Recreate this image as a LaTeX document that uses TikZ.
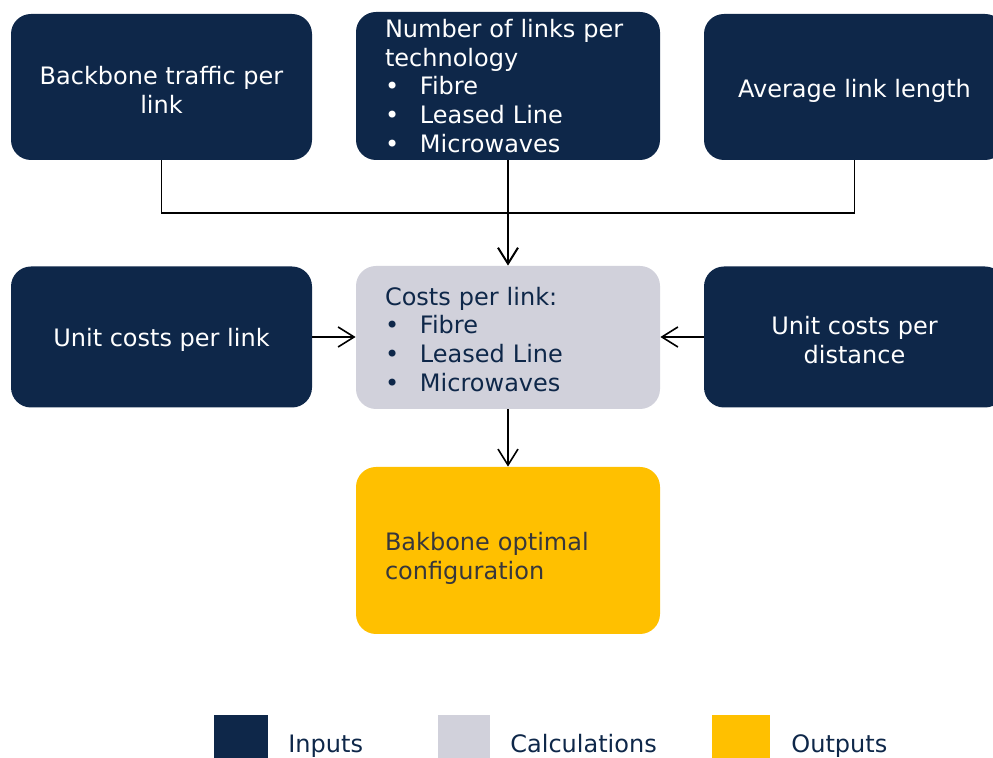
\documentclass[tikz,border=0pt]{standalone}
\usepackage{fontspec}
\setmainfont{DejaVu Sans}
\usetikzlibrary{arrows.meta}

\newcommand{\bul}{\makebox[17.5pt][l]{\textbullet}}
\newcommand{\lowered}[1]{\rule{0pt}{#1}}

\begin{document}
\begin{tikzpicture}[
  x=0.5pt, y=-0.5pt,
  stage/.style={rounded corners=10pt, inner sep=0pt, font=\fontsize{12}{14.35}\selectfont},
  inbox/.style={stage, fill=navy, text=white, align=center},
  calcbox/.style={stage, fill=calcgrey, text=navy, align=left, text width=123pt},
  outbox/.style={stage, fill=gold, text=outtext, align=left, text width=123pt},
  flow/.style={line width=0.8pt, -{Straight Barb[length=8pt,width=10pt]}},
  legkey/.style={minimum width=27pt, minimum height=21.5pt, inner sep=0pt},
  legtext/.style={text=navy, font=\fontsize{12}{14}\selectfont, inner sep=0pt},
]
\definecolor{navy}{RGB}{14,39,73}
\definecolor{calcgrey}{RGB}{209,209,219}
\definecolor{gold}{RGB}{255,192,0}
\definecolor{outtext}{RGB}{55,55,60}

\useasboundingbox (0,0) rectangle (993,758);

% inputs
\node [inbox, minimum width=150.5pt, minimum height=73pt] (traffic) at (161.5,87) {\lowered{12pt}Backbone traffic per\\link};
\node [inbox, align=left, text width=123pt, minimum width=152pt, minimum height=74pt] (nlinks) at (508,86)
  {Number of links per\\technology\\\bul Fibre\\\bul Leased Line\\\bul Microwaves};
\node [inbox, minimum width=150.5pt, minimum height=73pt] (avglen) at (854.5,87) {\lowered{13pt}Average link length};

\node [inbox, minimum width=150.5pt, minimum height=70.5pt] (unitlink) at (161.5,337) {\lowered{12pt}Unit costs per link};
\node [inbox, minimum width=150.5pt, minimum height=70.5pt] (unitdist) at (854.5,337) {\lowered{12pt}Unit costs per\\distance};

% calculation and output
\node [calcbox, minimum width=152pt, minimum height=71.5pt] (costs) at (508,337.5)
  {\lowered{11pt}Costs per link:\\\bul Fibre\\\bul Leased Line\\\bul Microwaves};
\node [outbox, minimum width=152pt, minimum height=83.5pt] (optimal) at (508,550.5)
  {\lowered{17pt}Bakbone optimal\\configuration};

% connectors
\coordinate (bus) at (508,213);
\draw [line width=0.8pt] (traffic.south) |- (bus) -| (avglen.south);
\draw [flow, line width=1pt] (nlinks.south) -- (costs.north);
\draw [flow] (unitlink.east) -- (costs.west |- unitlink.east);
\draw [flow] (unitdist.west) -- (costs.east |- unitdist.west);
\draw [flow] (costs.south) -- (optimal.north);

% legend
\node [legkey, fill=navy] (keyin) at (241,736.5) {};
\node [legkey, fill=calcgrey, minimum width=26pt] (keycalc) at (464,736.5) {};
\node [legkey, fill=gold, minimum width=29pt] (keyout) at (741,736.5) {};
\node [legtext, anchor=base west] (txtin) at (288,753) {Inputs};
\node [legtext, anchor=base west] (txtcalc) at (510,753) {Calculations};
\node [legtext, anchor=base west] (txtout) at (791,753) {Outputs};

\end{tikzpicture}
\end{document}
